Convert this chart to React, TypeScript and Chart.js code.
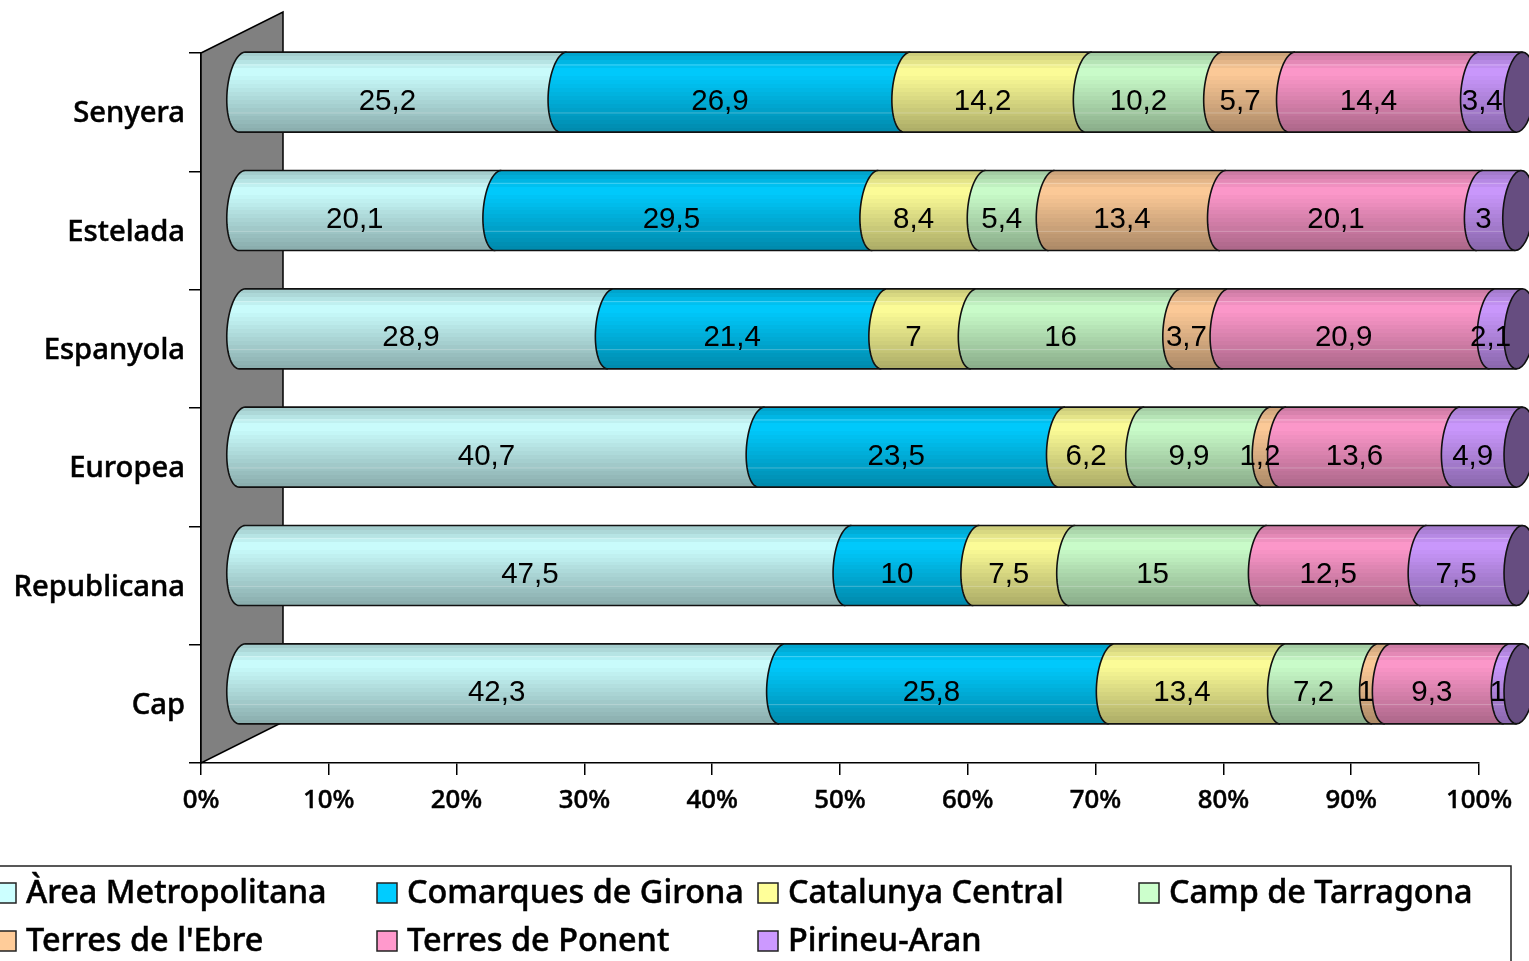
import React, { useEffect, useRef } from "react";
import { Chart, registerables } from "chart.js";

Chart.register(...registerables);

const categories = ["Senyera", "Estelada", "Espanyola", "Europea", "Republicana", "Cap"];
const areaMetropolitana = [25.2, 20.1, 28.9, 40.7, 47.5, 42.3];
const comarquesGirona = [26.9, 29.5, 21.4, 23.5, 10, 25.8];
const catalunyaCentral = [14.2, 8.4, 7, 6.2, 7.5, 13.4];
const campTarragona = [10.2, 5.4, 16, 9.9, 15, 7.2];
const terresEbre = [5.7, 13.4, 3.7, 1.2, 0, 1];
const terresPonent = [14.4, 20.1, 20.9, 13.6, 12.5, 9.3];
const pirineuAran = [3.4, 3, 2.1, 4.9, 7.5, 1];
const seriesNames = ["Àrea Metropolitana", "Comarques de Girona", "Catalunya Central", "Camp de Tarragona", "Terres de l'Ebre", "Terres de Ponent", "Pirineu-Aran"];
const seriesColors: number[][] = [[204, 255, 255], [0, 204, 255], [255, 255, 153], [204, 255, 204], [255, 204, 153], [255, 153, 204], [204, 153, 255]];
const seriesValues = [areaMetropolitana, comarquesGirona, catalunyaCentral, campTarragona, terresEbre, terresPonent, pirineuAran];

const DEPTH = 82;
const BAR_DX = 25;
const BAR_DY = -20;
const LABEL_DY = 9.3;
const RX = 15.2;
const SK = 3;
const CX = 15.5;

const shade = (t: number) => (t < 0.24 ? 0.78 + (0.22 * t) / 0.24 : 1 - ((t - 0.24) / 0.76) * 0.33);
const rgb = (c: number[], k: number) => `rgb(${Math.round(c[0] * k)},${Math.round(c[1] * k)},${Math.round(c[2] * k)})`;

function bandedFill(ctx: CanvasRenderingContext2D, top: number, h: number, c: number[]) {
  const g = ctx.createLinearGradient(0, top, 0, top + h);
  const steps = 20;
  for (let i = 0; i < steps; i++) {
    const col = rgb(c, shade((i + 0.5) / steps));
    g.addColorStop(i / steps, col);
    g.addColorStop((i + 1) / steps, col);
  }
  return g;
}

function halfEllipse(ctx: CanvasRenderingContext2D, cx: number, cy: number, ry: number, from: number, to: number) {
  const n = 36;
  for (let i = 0; i <= n; i++) {
    const t = from + ((to - from) * i) / n;
    ctx.lineTo(cx + RX * Math.cos(t) - SK * Math.sin(t), cy + ry * Math.sin(t));
  }
}

const wallPlugin = {
  id: "wall",
  beforeDatasetsDraw(chart: any) {
    const { ctx, chartArea: a } = chart;
    ctx.save();
    ctx.beginPath();
    ctx.moveTo(a.left, a.top);
    ctx.lineTo(a.left + DEPTH, a.top - 41);
    ctx.lineTo(a.left + DEPTH, a.bottom - 41);
    ctx.lineTo(a.left, a.bottom);
    ctx.closePath();
    ctx.fillStyle = "#808080";
    ctx.fill();
    ctx.strokeStyle = "#000";
    ctx.lineWidth = 1.5;
    ctx.stroke();
    ctx.restore();
  },
};

const cylinderPlugin = {
  id: "cylinders",
  beforeDatasetDraw() {
    return false;
  },
  afterDatasetsDraw(chart: any) {
    const { ctx } = chart;
    ctx.save();
    const n = chart.data.labels.length;
    const count = chart.data.datasets.length;
    for (let r = 0; r < n; r++) {
      let endX = 0;
      let cy = 0;
      let ry = 0;
      for (let d = 0; d < count; d++) {
        const el = chart.getDatasetMeta(d).data[r];
        const v = chart.data.datasets[d].data[r];
        if (!v) continue;
        const x0 = el.base + BAR_DX;
        const x1 = el.x + BAR_DX;
        ry = el.height / 2;
        cy = el.y + BAR_DY;
        const top = cy - ry;
        ctx.beginPath();
        ctx.moveTo(x0 + CX + SK, top);
        halfEllipse(ctx, x0 + CX, cy, ry, -Math.PI / 2, -Math.PI * 1.5);
        halfEllipse(ctx, x1 + CX, cy, ry, Math.PI / 2, -Math.PI / 2);
        ctx.closePath();
        ctx.fillStyle = bandedFill(ctx, top, ry * 2, seriesColors[d]);
        ctx.fill();
        ctx.save();
        ctx.clip();
        ctx.strokeStyle = "rgba(255,255,255,0.28)";
        ctx.lineWidth = 1;
        for (const f of [0.16, 0.76]) {
          ctx.beginPath();
          ctx.moveTo(x0, top + ry * 2 * f);
          ctx.lineTo(x1 + 30, top + ry * 2 * f);
          ctx.stroke();
        }
        ctx.restore();
        ctx.strokeStyle = "#111";
        ctx.lineWidth = 1.6;
        ctx.beginPath();
        ctx.moveTo(x1 + CX + SK, top);
        ctx.lineTo(x0 + CX + SK, top);
        halfEllipse(ctx, x0 + CX, cy, ry, -Math.PI / 2, -Math.PI * 1.5);
        ctx.lineTo(x1 + CX - SK, cy + ry);
        ctx.stroke();
        endX = x1;
      }
      const c = seriesColors[count - 1];
      ctx.beginPath();
      halfEllipse(ctx, endX + CX, cy, ry, 0, Math.PI * 2);
      ctx.closePath();
      ctx.fillStyle = rgb(c, 0.5);
      ctx.fill();
      ctx.strokeStyle = "#111";
      ctx.lineWidth = 1.6;
      ctx.stroke();
    }
    ctx.fillStyle = "#000";
    ctx.font = '29.5px "Liberation Sans"';
    ctx.textAlign = "center";
    ctx.textBaseline = "middle";
    for (let d = 0; d < count; d++) {
      chart.getDatasetMeta(d).data.forEach((el: any, r: number) => {
        const v = chart.data.datasets[d].data[r];
        if (!v) return;
        ctx.fillText(String(v).replace(".", ","), (el.base + el.x) / 2 + BAR_DX, el.y + BAR_DY + LABEL_DY);
      });
    }
    ctx.restore();
  },
};

const legendPlugin = {
  id: "boxLegend",
  afterDraw(chart: any) {
    const { ctx } = chart;
    ctx.save();
    ctx.strokeStyle = "#222";
    ctx.lineWidth = 1.5;
    ctx.strokeRect(-10, 866, 1521, 120);
    ctx.font = '500 32.4px "Noto Sans"';
    ctx.textBaseline = "middle";
    ctx.textAlign = "left";
    chart.data.datasets.forEach((ds: any, i: number) => {
      const col = i % 4;
      const row = Math.floor(i / 4);
      const x = -4 + col * 381;
      const y = 883 + row * 48;
      ctx.fillStyle = rgb(seriesColors[i], 1);
      ctx.fillRect(x, y, 20, 20);
      ctx.strokeStyle = "#222";
      ctx.lineWidth = 1.5;
      ctx.strokeRect(x, y, 20, 20);
      ctx.fillStyle = "#000";
      ctx.strokeStyle = "#000";
      ctx.lineWidth = 0.5;
      ctx.strokeText(ds.label, x + 30, y + 11);
      ctx.fillText(ds.label, x + 30, y + 11);
    });
    ctx.restore();
  },
};

export default function App() {
  const ref = useRef<HTMLCanvasElement>(null);
  useEffect(() => {
    document.body.style.margin = "0";
    const chart = new Chart(ref.current!, {
      type: "bar",
      data: {
        labels: categories,
        datasets: seriesNames.map((label, i) => ({
          label,
          data: seriesValues[i],
          backgroundColor: rgb(seriesColors[i], 1),
          barPercentage: 0.676,
          categoryPercentage: 1,
        })),
      },
      options: {
        indexAxis: "y",
        animation: false,
        responsive: false,
        layout: { padding: { top: 53, right: 50, left: 0, bottom: 0 } },
        plugins: { legend: { display: false }, tooltip: { enabled: false } },
        scales: {
          x: {
            stacked: true,
            min: 0,
            max: 100,
            afterFit: (s: any) => { s.height = 198; },
            border: { color: "#000", width: 1.5 },
            grid: { drawOnChartArea: false, color: "#000", tickLength: 12, lineWidth: 1.5 },
            ticks: {
              stepSize: 10,
              autoSkip: false,
              maxRotation: 0,
              padding: 10,
              color: "#000",
              textStrokeColor: "#000",
              textStrokeWidth: 0.5,
              font: { family: "Noto Sans", size: 25.8, weight: "500" },
              callback: (v: any) => `${v}%`,
            },
          },
          y: {
            stacked: true,
            afterFit: (s: any) => { s.width = 201; },
            border: { color: "#000", width: 1.5 },
            grid: { drawOnChartArea: false, color: "#000", tickLength: 12, lineWidth: 1.5 },
            ticks: {
              autoSkip: false,
              padding: 4,
              labelOffset: 2,
              color: "#000",
              textStrokeColor: "#000",
              textStrokeWidth: 0.5,
              font: { family: "Noto Sans", size: 29.2, weight: "500" },
            },
          },
        },
      } as any,
      plugins: [wallPlugin, cylinderPlugin, legendPlugin],
    });
    return () => chart.destroy();
  }, []);
  return <canvas ref={ref} width={1529} height={961} style={{ display: "block" }} />;
}
